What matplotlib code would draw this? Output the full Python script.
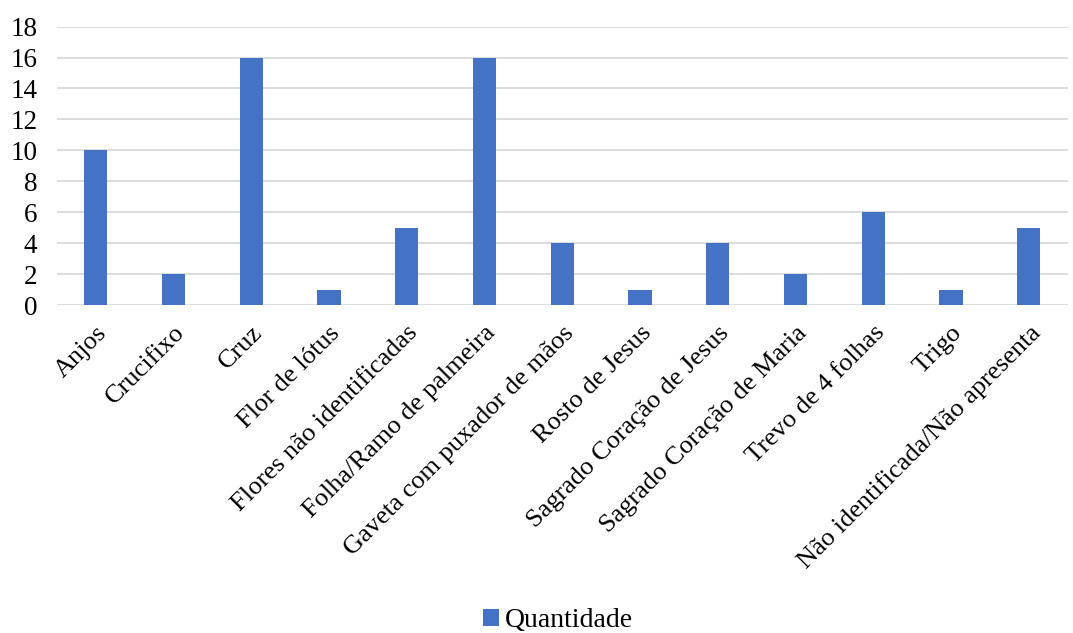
import matplotlib.pyplot as plt
import numpy as np

categorias = [
    "Anjos", "Crucifixo", "Cruz", "Flor de lótus", "Flores não identificadas",
    "Folha/Ramo de palmeira", "Gaveta com puxador de mãos", "Rosto de Jesus",
    "Sagrado Coração de Jesus", "Sagrado Coração de Maria", "Trevo de 4 folhas",
    "Trigo", "Não identificada/Não apresenta",
]
quantidade = [10, 2, 16, 1, 5, 16, 4, 1, 4, 2, 6, 1, 5]
yticks = [0, 2, 4, 6, 8, 10, 12, 14, 16, 18]

plt.rcParams['font.family'] = ['Liberation Serif', 'DejaVu Serif']

fig = plt.figure(figsize=(10.73, 6.33), dpi=100)
ax = fig.add_axes([0.053, 0.518, 0.942, 0.44])

x = np.arange(len(categorias))
ax.bar(x, quantidade, width=0.3, color='#4472C4', label='Quantidade', zorder=3)

ax.set_xlim(-0.5, len(categorias) - 0.5)
ax.set_ylim(0, 18)
ax.set_yticks(yticks)
ax.set_yticklabels([str(v) for v in yticks], fontsize=19.5)
ax.set_xticks(x)
ax.set_xticklabels(categorias, rotation=45, ha='right', rotation_mode='anchor', fontsize=19)
ax.tick_params(axis='both', length=0)
ax.tick_params(axis='x', pad=12)
ax.tick_params(axis='y', pad=14)
ax.grid(axis='y', color='#D9D9D9', linewidth=1.3, zorder=0)
for s in ax.spines.values():
    s.set_visible(False)

fig.legend(loc='lower center', bbox_to_anchor=(0.52, -0.04), frameon=False,
           fontsize=20, handlelength=0.6, handleheight=0.6, handletextpad=0.2)

fig.savefig('out.png', dpi=100)
